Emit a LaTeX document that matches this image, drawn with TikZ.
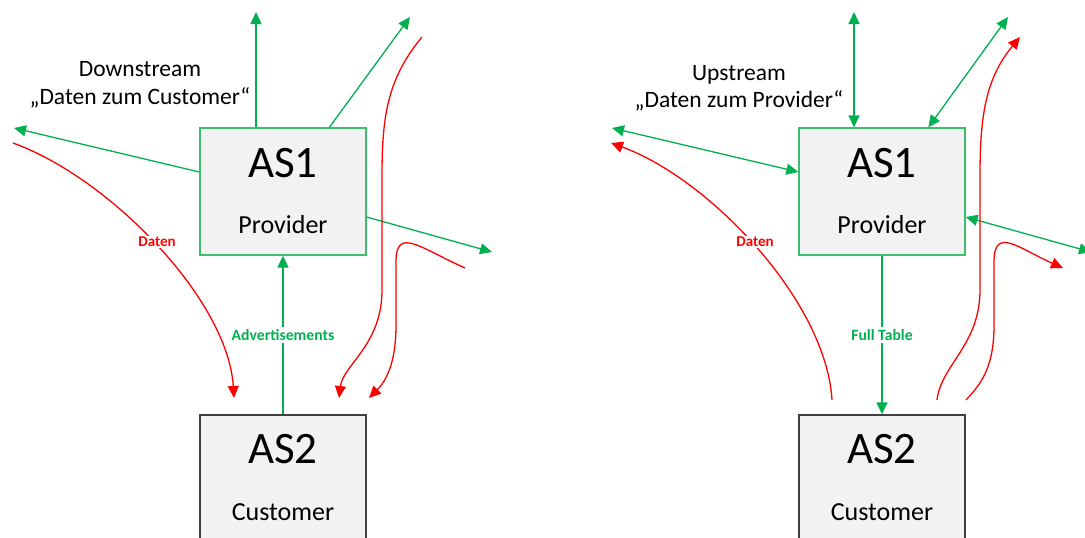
\documentclass[tikz,border=0pt]{standalone}
\usepackage{fontspec}
\setmainfont{Carlito}
\usetikzlibrary{arrows.meta,calc}
\definecolor{grn}{HTML}{00B050}
\definecolor{boxgrn}{HTML}{3DBE6E}
\definecolor{rd}{HTML}{FF0000}
\definecolor{boxfill}{HTML}{F2F2F2}
\definecolor{boxgray}{HTML}{404040}
\begin{document}
\begin{tikzpicture}[x=1pt,y=-1pt,
 provbox/.style={draw=boxgrn,fill=boxfill,line width=1.3pt,minimum width=166pt,minimum height=127pt,inner sep=0pt},
 custbox/.style={draw=boxgray,fill=boxfill,line width=1.3pt,minimum width=166pt,minimum height=150pt,inner sep=0pt},
 bigtxt/.style={font=\fontsize{45}{54}\selectfont,anchor=base,inner sep=0pt},
 midtxt/.style={font=\fontsize{26}{31}\selectfont,anchor=base,inner sep=0pt},
 captxt/.style={font=\fontsize{23.5}{28}\selectfont,anchor=base,inner sep=0pt},
 grnlbl/.style={font=\bfseries\fontsize{15.7}{18}\selectfont,text=grn,fill=white,inner sep=2pt},
 redlbl/.style={font=\bfseries\fontsize{15}{17}\selectfont,text=rd,fill=white,inner sep=1pt},
 garrow/.style={draw=grn,line width=1.3pt,-{Triangle[length=12pt,width=11pt]}},
 gdarrow/.style={draw=grn,line width=1.3pt,{Triangle[length=12pt,width=11pt]}-{Triangle[length=12pt,width=11pt]}},
 rarrow/.style={draw=rd,line width=1.3pt,-{Triangle[length=12pt,width=11pt]}},
 rarrowrev/.style={draw=rd,line width=1.3pt,{Triangle[length=12pt,width=11pt]}-},
]
\useasboundingbox (0,0) rectangle (1085,538);

% ---------------- left panel: Downstream ----------------
\node[provbox] (p1) at (283,191.5) {};
\node[custbox] (c1) at (283,490) {};
\node[bigtxt] (p1a) at (283,177) {AS1};
\node[midtxt] (p1b) at (283,233) {Provider};
\node[bigtxt] (c1a) at (283,463) {AS2};
\node[midtxt] (c1b) at (283,520) {Customer};
\node[captxt] (d1) at (140,76) {Downstream};
\node[captxt] (d2) at (140,104) {„Daten zum Customer“};

\coordinate (l1up) at (256,12);
\coordinate (l1ne) at (410,17);
\coordinate (l1w) at (14,128);
\coordinate (l1e) at (492,252);
\draw[garrow] (p1.north -| l1up) -- (l1up);
\draw[garrow] ($(p1.north west)!0.777!(p1.north east)$) -- (l1ne);
\draw[garrow] ([yshift=19.5pt]p1.west) -- (l1w);
\draw[garrow] ([yshift=-25.5pt]p1.east) -- (l1e);
\draw[garrow] (c1.north) -- (p1.south) node[pos=0.5,grnlbl] (adv) {Advertisements};

\coordinate (r1s) at (13,143);
\coordinate (r1e) at (234,398);
\draw[rarrow] (r1s) .. controls (110,178) and (228,300) .. (r1e);
\node[redlbl] (dl1) at (157,242) {Daten};
\coordinate (r2s) at (422,37);
\coordinate (r2e) at (339,398);
\draw[rarrow] (r2s) .. controls (388,78) and (382,115) .. (382,175) -- (382,290) .. controls (382,345) and (343,365) .. (r2e);
\coordinate (r3s) at (465,268);
\coordinate (r3e) at (369,398);
\draw[rarrow] (r3s) .. controls (420,248) and (396,226) .. (396,262) -- (396,325) .. controls (396,365) and (385,382) .. (r3e);

% ---------------- right panel: Upstream ----------------
\node[provbox] (p2) at (882,191.5) {};
\node[custbox] (c2) at (882,490) {};
\node[bigtxt] (p2a) at (882,177) {AS1};
\node[midtxt] (p2b) at (882,233) {Provider};
\node[bigtxt] (c2a) at (882,463) {AS2};
\node[midtxt] (c2b) at (882,520) {Customer};
\node[captxt] (u1) at (739,80.5) {Upstream};
\node[captxt] (u2) at (739,107) {„Daten zum Provider“};

\coordinate (l2up) at (854,12);
\coordinate (l2ne) at (1008,17);
\coordinate (l2w) at (612,128);
\coordinate (l2e) at (1091,252);
\draw[gdarrow] (p2.north -| l2up) -- (l2up);
\draw[gdarrow] ($(p2.north west)!0.777!(p2.north east)$) -- (l2ne);
\draw[gdarrow] ([yshift=19.5pt]p2.west) -- (l2w);
\draw[gdarrow] ([yshift=-25.5pt]p2.east) -- (l2e);
\draw[garrow] (p2.south) -- (c2.north) node[pos=0.5,grnlbl] (full) {Full Table};

\coordinate (s1s) at (611,143);
\coordinate (s1e) at (832,400);
\draw[rarrowrev] (s1s) .. controls (708,178) and (826,300) .. (s1e);
\node[redlbl] (dl2) at (755,242) {Daten};
\coordinate (s2s) at (1020,37);
\coordinate (s2e) at (937,400);
\draw[rarrowrev] (s2s) .. controls (986,78) and (980,115) .. (980,175) -- (980,290) .. controls (980,345) and (941,365) .. (s2e);
\coordinate (s3s) at (1063,268);
\coordinate (s3e) at (966,400);
\draw[rarrowrev] (s3s) .. controls (1018,248) and (994,226) .. (994,262) -- (994,325) .. controls (994,365) and (983,382) .. (s3e);
\end{tikzpicture}
\end{document}
